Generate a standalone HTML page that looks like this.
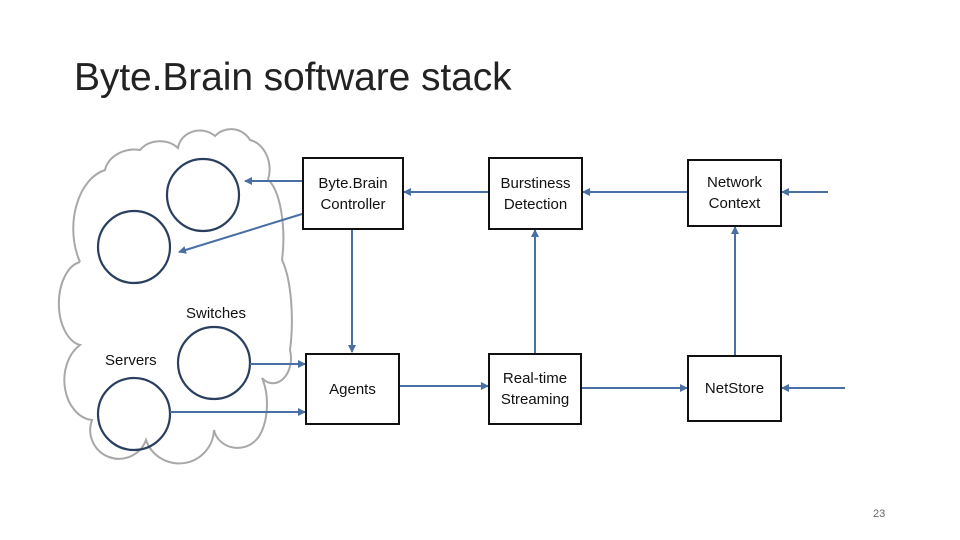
<!DOCTYPE html>
<html><head><style>
html,body{margin:0;padding:0;background:#fff;}
body{width:960px;height:540px;position:relative;overflow:hidden;font-family:"Liberation Sans",sans-serif;}
.t{position:absolute;left:74px;top:56px;font-size:39px;color:#222;letter-spacing:-0.1px;}
.b{position:absolute;border:2px solid #111;box-sizing:border-box;display:flex;align-items:center;justify-content:center;text-align:center;font-size:15px;line-height:21px;color:#111;}
.l{position:absolute;font-size:15px;color:#111;}
</style></head><body>
<div class="t">Byte.Brain software stack</div>
<svg width="960" height="540" style="position:absolute;left:0;top:0">
<defs><marker id="a" markerWidth="8" markerHeight="8" refX="7" refY="4" orient="auto" markerUnits="userSpaceOnUse"><path d="M0,0 L8,4 L0,8z" fill="#4a6fa5"/></marker></defs>
<path d="M80,262 A40,60 0 0 1 105,170 A30,25 0 0 1 140,150 A25,22 0 0 1 178,148 A22,20 0 0 1 215,136 A22,22 0 0 1 250,140 A24,30 0 0 1 268,180 A20,60 0 0 1 282,260 A20,70 0 0 1 290,350 A18,25 0 0 1 262,378 A20,40 0 0 1 256,440 A24,22 0 0 1 214,430 A35,35 0 0 1 146,440 A28,28 0 0 1 92,420 A30,40 0 0 1 80,345 A25,42 0 0 1 80,262" fill="none" stroke="#a8a8a8" stroke-width="2"/>
<g fill="none" stroke="#2a3f5f" stroke-width="2.2">
<circle cx="203" cy="195" r="36"/><circle cx="134" cy="247" r="36"/>
<circle cx="214" cy="363" r="36"/><circle cx="134" cy="414" r="36"/>
</g>
<g stroke="#4a6fa5" stroke-width="2" fill="none" marker-end="url(#a)">
<line x1="302" y1="181" x2="245" y2="181"/>
<line x1="302" y1="214" x2="179" y2="252"/>
<line x1="488" y1="192" x2="404" y2="192"/>
<line x1="687" y1="192" x2="583" y2="192"/>
<line x1="828" y1="192" x2="782" y2="192"/>
<line x1="352" y1="229" x2="352" y2="352"/>
<line x1="535" y1="353" x2="535" y2="230"/>
<line x1="735" y1="355" x2="735" y2="227"/>
<line x1="250" y1="364" x2="305" y2="364"/>
<line x1="170" y1="412" x2="305" y2="412"/>
<line x1="399" y1="386" x2="488" y2="386"/>
<line x1="582" y1="388" x2="687" y2="388"/>
<line x1="845" y1="388" x2="782" y2="388"/>
</g>
</svg>
<div class="b" style="left:302px;top:157px;width:102px;height:73px">Byte.Brain<br>Controller</div>
<div class="b" style="left:488px;top:157px;width:95px;height:73px">Burstiness<br>Detection</div>
<div class="b" style="left:687px;top:159px;width:95px;height:68px">Network<br>Context</div>
<div class="b" style="left:305px;top:353px;width:95px;height:72px">Agents</div>
<div class="b" style="left:488px;top:353px;width:94px;height:72px">Real-time<br>Streaming</div>
<div class="b" style="left:687px;top:355px;width:95px;height:67px">NetStore</div>
<div class="l" style="left:186px;top:305px">Switches</div>
<div class="l" style="left:105px;top:352px">Servers</div>
<div class="l" style="left:873px;top:508px;font-size:11px;color:#666">23</div>
</body></html>
